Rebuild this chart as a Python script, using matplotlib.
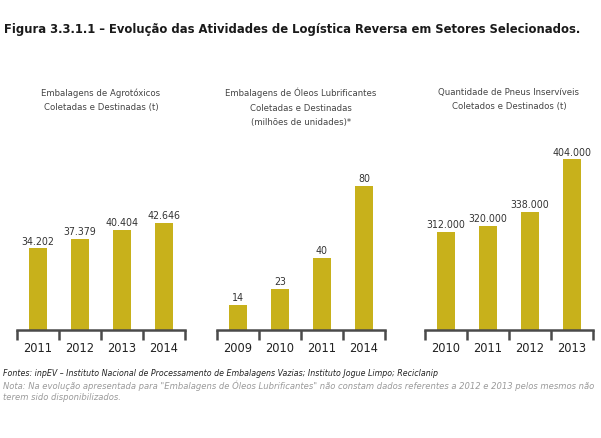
import matplotlib.pyplot as plt

plt.rcParams['font.family'] = ['DejaVu Sans']
plt.rcParams['font.stretch'] = 'condensed'

# dados dos três painéis
years_agro = ['2011', '2012', '2013', '2014']
vals_agro = [34202, 37379, 40404, 42646]

years_oleo = ['2009', '2010', '2011', '2014']
vals_oleo = [14, 23, 40, 80]

years_pneu = ['2010', '2011', '2012', '2013']
vals_pneu = [312000, 320000, 338000, 404000]

subtitles = ['Embalagens de Agrotóxicos\nColetadas e Destinadas (t)',
             'Embalagens de Óleos Lubrificantes\nColetadas e Destinadas\n(milhões de unidades)*',
             'Quantidade de Pneus Inservíveis\nColetados e Destinados (t)']

bar_color = '#C8B11B'
axis_color = '#4a4a4a'

W, H = 601, 438
fig = plt.figure(figsize=(W / 100, H / 100), dpi=100)

def px_axes(x0, x1, ytop, ybot):
    return fig.add_axes([x0 / W, 1 - ybot / H, (x1 - x0) / W, (ybot - ytop) / H])

def fmt_br(v):
    return f'{v:,}'.replace(',', '.')

panels = [
    (17, 185, years_agro, vals_agro, (7000, 67000)),
    (217, 385, years_oleo, vals_oleo, (0, 100)),
    (425, 593, years_pneu, vals_pneu, (188000, 416000)),
]

for i, (x0, x1, years, vals, ylim) in enumerate(panels):
    ax = px_axes(x0, x1, 150, 330)
    xs = range(len(vals))
    ax.bar(xs, vals, width=0.45, color=bar_color, zorder=2)
    for x, v in zip(xs, vals):
        ax.text(x, v + (ylim[1] - ylim[0]) * 0.01, fmt_br(v), ha='center', va='bottom',
                fontsize=7.6, color='#333333')
    ax.set_xlim(-0.5, len(vals) - 0.5)
    ax.set_ylim(*ylim)
    for s in ['top', 'right', 'left']:
        ax.spines[s].set_visible(False)
    ax.spines['bottom'].set_color(axis_color)
    ax.spines['bottom'].set_linewidth(1.8)
    ax.set_yticks([])
    ax.set_xticks([x - 0.5 for x in range(len(vals) + 1)])
    ax.set_xticklabels([])
    ax.set_xticks(list(xs), minor=True)
    ax.set_xticklabels(years, minor=True, fontsize=9.2, color='#222222')
    ax.tick_params(axis='x', which='major', direction='out', length=7, width=1.8, color=axis_color)
    ax.tick_params(axis='x', which='minor', length=0, pad=9)
    fig.text((x0 + x1) / 2 / W, 1 - 88 / H, subtitles[i], ha='center', va='top',
             fontsize=6.8, color='#444444', linespacing=1.75)

fig.text(4 / W, 1 - 30 / H,
         'Figura 3.3.1.1 – Evolução das Atividades de Logística Reversa em Setores Selecionados.',
         fontsize=9.3, fontweight='bold', color='#1a1a1a', va='center')

fig.text(3 / W, 1 - 374 / H,
         'Fontes: inpEV – Instituto Nacional de Processamento de Embalagens Vazias; Instituto Jogue Limpo; Reciclanip',
         fontsize=6.3, style='italic', color='#222222', va='center')
fig.text(3 / W, 1 - 386 / H,
         'Nota: Na evolução apresentada para "Embalagens de Óleos Lubrificantes" não constam dados referentes a 2012 e 2013 pelos mesmos não',
         fontsize=6.75, style='italic', color='#9a9a9a', va='center')
fig.text(3 / W, 1 - 398 / H, 'terem sido disponibilizados.',
         fontsize=6.75, style='italic', color='#9a9a9a', va='center')

fig.savefig('out.png', dpi=100)
